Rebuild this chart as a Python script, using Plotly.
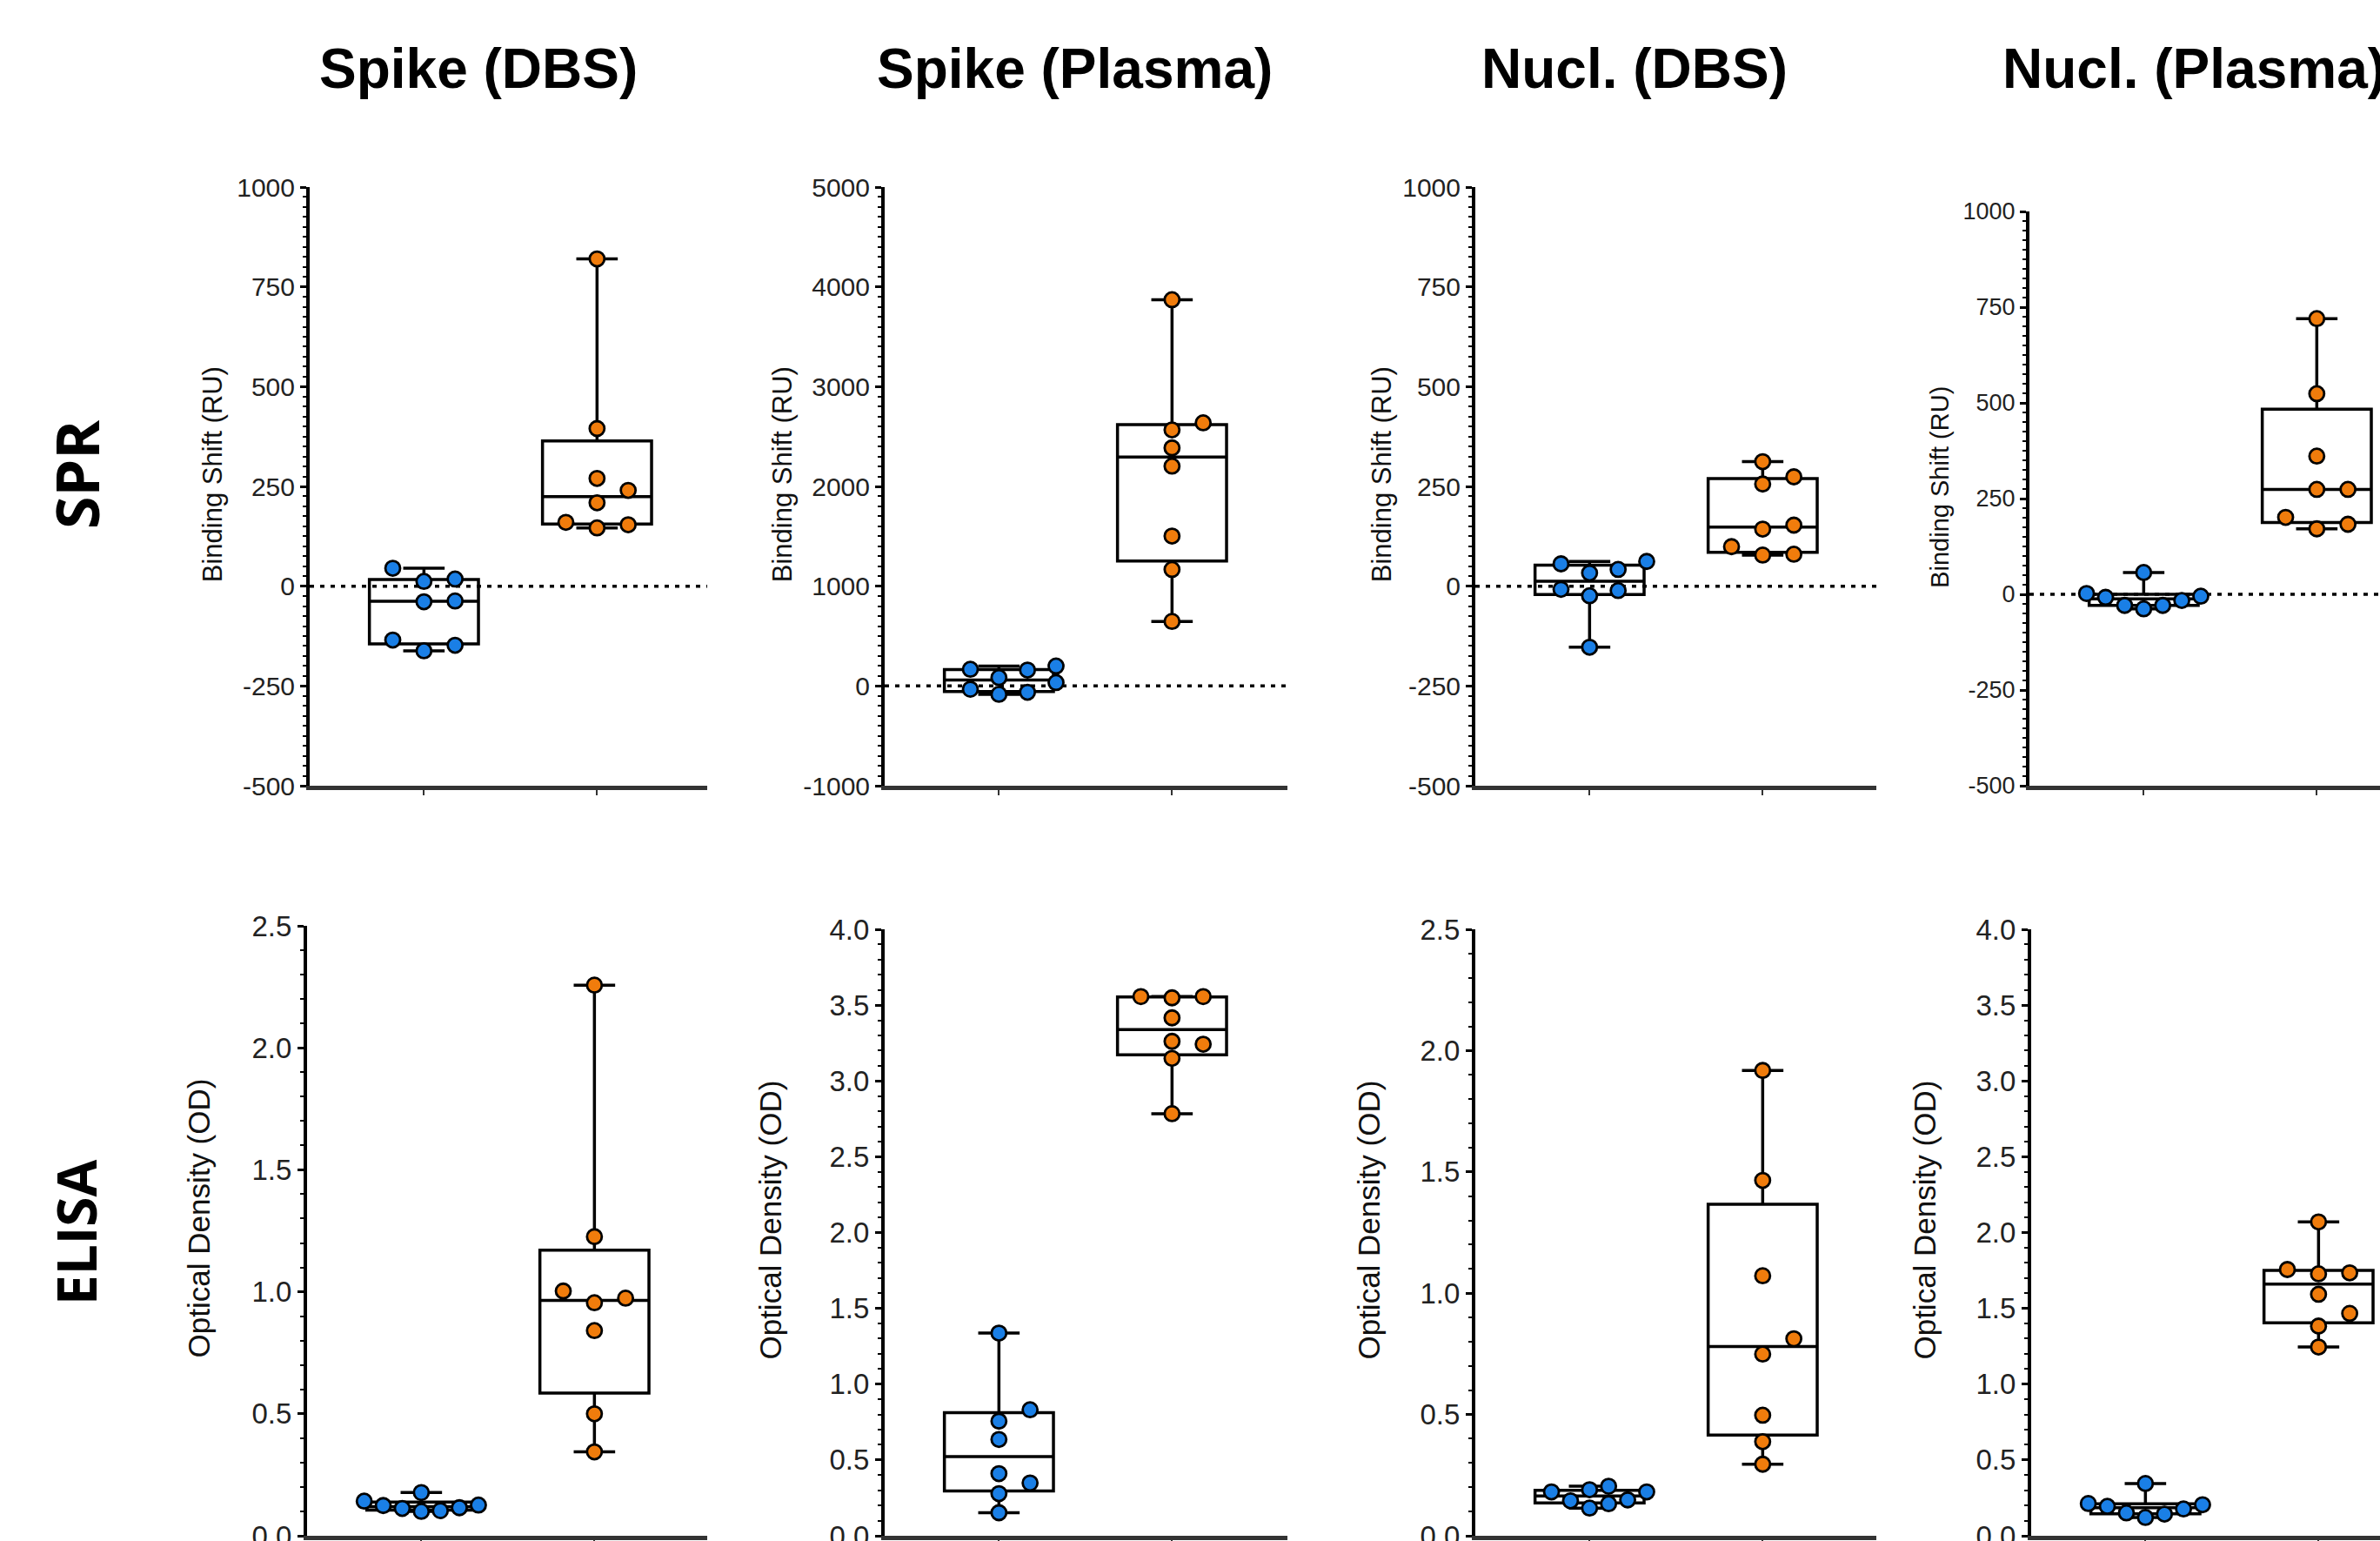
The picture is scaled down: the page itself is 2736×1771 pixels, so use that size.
import plotly.graph_objects as go
import numpy as np

# ---------------- data ----------------
column_titles = ["Spike (DBS)", "Spike (Plasma)", "Nucl. (DBS)", "Nucl. (Plasma)"]
row_labels = ["SPR", "ELISA"]
y_titles = ["Binding Shift (RU)", "Optical Density (OD)"]

spr_spike_dbs_neg = [45, 18, 12, -37, -39, -135, -148, -162]
spr_spike_dbs_pos = [820, 395, 270, 240, 209, 160, 154, 146]
spr_spike_plasma_neg = [200, 167, 159, 84, 34, -33, -63, -84]
spr_spike_plasma_pos = [3871, 2637, 2566, 2386, 2203, 1502, 1168, 647]
spr_nucl_dbs_neg = [62, 56, 42, 33, -8, -11, -24, -153]
spr_nucl_dbs_pos = [312, 274, 256, 153, 143, 99, 80, 78]
spr_nucl_plasma_neg = [57, 2, -5, -8, -16, -29, -29, -38]
spr_nucl_plasma_pos = [720, 524, 361, 274, 274, 201, 183, 171]

elisa_spike_dbs_neg = [0.177, 0.142, 0.126, 0.124, 0.115, 0.112, 0.103, 0.100]
elisa_spike_dbs_pos = [2.257, 1.226, 1.003, 0.974, 0.955, 0.841, 0.500, 0.344]
elisa_spike_plasma_neg = [1.337, 0.831, 0.756, 0.635, 0.410, 0.348, 0.278, 0.152]
elisa_spike_plasma_pos = [3.556, 3.556, 3.548, 3.416, 3.261, 3.242, 3.149, 2.784]
elisa_nucl_dbs_neg = [0.204, 0.190, 0.181, 0.181, 0.148, 0.144, 0.132, 0.114]
elisa_nucl_dbs_pos = [1.918, 1.465, 1.072, 0.812, 0.749, 0.497, 0.388, 0.295]
elisa_nucl_plasma_neg = [0.345, 0.213, 0.205, 0.194, 0.177, 0.151, 0.143, 0.121]
elisa_nucl_plasma_pos = [2.070, 1.756, 1.734, 1.728, 1.593, 1.467, 1.383, 1.245]

y_ranges = [[-500, 1000], [-1000, 5000], [-500, 1000], [-500, 1000],
            [0, 2.5], [0, 4.0], [0, 2.5], [0, 4.0]]
y_dticks = [250, 1000, 250, 250, 0.5, 0.5, 0.5, 0.5]
y_minor = [25, 100, 25, 25, 0.1, 0.1, 0.1, 0.1]

panels = [
    (spr_spike_dbs_neg, spr_spike_dbs_pos),
    (spr_spike_plasma_neg, spr_spike_plasma_pos),
    (spr_nucl_dbs_neg, spr_nucl_dbs_pos),
    (spr_nucl_plasma_neg, spr_nucl_plasma_pos),
    (elisa_spike_dbs_neg, elisa_spike_dbs_pos),
    (elisa_spike_plasma_neg, elisa_spike_plasma_pos),
    (elisa_nucl_dbs_neg, elisa_nucl_dbs_pos),
    (elisa_nucl_plasma_neg, elisa_nucl_plasma_pos),
]

# ---------------- layout geometry ----------------
W, H = 2736, 1771
BLUE = "#1a7fe6"
ORANGE = "#f07c0c"

x_dom_px = [(356, 813), (1017, 1480), (1696, 2157), (2333, 2736),
            (353, 813), (1017, 1480), (1696, 2157), (2335, 2736)]
y_dom_px = [(215, 903), (215, 903), (215, 903), (243, 903),
            (1064, 1765), (1068, 1765), (1068, 1765), (1068, 1765)]
unit_px = 199.0  # px per category unit
x_left = -0.66
title_shift = [-112, -118, -108, -103, -125, -131, -122, -122]
tick_size = [30, 30, 30, 27, 33, 33, 33, 33]
ytitle_size = [31, 31, 31, 29, 35, 35, 35, 35]

BOX_W = 0.63


def swarm(vals, px_per_unit, thr=19.0, step=0.18, half=0.33):
    order = sorted(range(len(vals)), key=lambda i: vals[i])
    placed = []
    ks = [0] * len(vals)
    for i in order:
        y = vals[i] * px_per_unit
        for k in [0, 1, -1, 2, -2, 3, -3, 4, -4, 5, -5]:
            if all(not (pk == k and abs(py - y) < thr) for pk, py in placed):
                break
        placed.append((k, y))
        ks[i] = k
    maxk = max(abs(k) for k in ks)
    if maxk:
        step = min(step, max(half / maxk, 0.1))
    return [k * step for k in ks]


def tick_labels(lo, hi, d, decimals):
    vals = list(np.arange(lo, hi + d / 2, d))
    if decimals:
        txt = [f"{v:.1f}" for v in vals]
    else:
        txt = [str(int(round(v))) for v in vals]  # plain hyphen minus
    return vals, txt


fig = go.Figure()
shapes = []
annotations = []

for p, (neg, pos) in enumerate(panels):
    n = p + 1
    xa = "x" if n == 1 else f"x{n}"
    ya = "y" if n == 1 else f"y{n}"
    x0, x1 = x_dom_px[p]
    yt, yb = y_dom_px[p]
    px_per_unit = (yb - yt) / (y_ranges[p][1] - y_ranges[p][0])

    if p < 4:
        shapes.append(dict(type="line", xref=f"{xa} domain", yref=ya,
                           x0=0, x1=1, y0=0, y1=0, layer="below",
                           line=dict(color="black", width=3.5, dash="5px,7px")))

    for gi, (vals, col) in enumerate([(neg, BLUE), (pos, ORANGE)]):
        v = np.array(vals, dtype=float)
        q1, med, q3 = np.percentile(v, [25, 50, 75], method="weibull")
        fig.add_trace(go.Box(
            x=[gi], q1=[q1], median=[med], q3=[q3],
            lowerfence=[v.min()], upperfence=[v.max()],
            width=BOX_W, whiskerwidth=0.38,
            fillcolor="rgba(0,0,0,0)", line=dict(color="black", width=3.5),
            boxpoints=False, xaxis=xa, yaxis=ya, hoverinfo="skip"))
        offs = swarm(vals, px_per_unit)
        fig.add_trace(go.Scatter(
            x=[gi + o for o in offs], y=vals, mode="markers",
            marker=dict(color=col, size=17, line=dict(color="black", width=2.8)),
            xaxis=xa, yaxis=ya, hoverinfo="skip", cliponaxis=False))

    tv, tt = tick_labels(y_ranges[p][0], y_ranges[p][1], y_dticks[p], p >= 4)
    x_right = x_left + (x1 - x0) / unit_px
    fig.update_layout({
        ("xaxis" if n == 1 else f"xaxis{n}"): dict(
            domain=[x0 / W, x1 / W], anchor=ya, range=[x_left, x_right],
            automargin=False,
            showgrid=False, zeroline=False, showline=True, linecolor="#333333",
            linewidth=5, tickmode="array", tickvals=[0, 1], ticks="outside",
            ticklen=6, tickwidth=2, tickcolor="#333", showticklabels=False),
        ("yaxis" if n == 1 else f"yaxis{n}"): dict(
            domain=[1 - yb / H, 1 - yt / H], anchor=xa, range=y_ranges[p],
            automargin=False, ticklabeloverflow="allow",
            showgrid=False, zeroline=False, showline=True, linecolor="black",
            linewidth=4, ticks="outside", ticklen=7, tickwidth=3, tickcolor="black",
            tickmode="array", tickvals=tv, ticktext=tt,
            tickfont=dict(family="Liberation Sans, Arial", size=tick_size[p], color="#222"),
            minor=dict(dtick=y_minor[p], tick0=0, ticks="outside", ticklen=4,
                       tickwidth=2, tickcolor="black", showgrid=False)),
    })

    annotations.append(dict(
        text=y_titles[0] if p < 4 else y_titles[1],
        xref=f"{xa} domain", yref=f"{ya} domain", x=0, y=0.52,
        xshift=title_shift[p], xanchor="center", yanchor="middle",
        textangle=-90, showarrow=False,
        font=dict(family="Liberation Sans, Arial", size=ytitle_size[p], color="#111")))

# column titles
title_x = [550, 1235, 1879, 2300]
for i, t in enumerate(column_titles):
    annotations.append(dict(
        text=f"<b>{t}</b>", xref="paper", yref="paper",
        x=title_x[i] / W, y=1 - 79 / H,
        xanchor="left" if i == 3 else "center", yanchor="middle", showarrow=False,
        font=dict(family="Liberation Sans, Arial", size=64, color="black")))

# row labels
row_y = [546, 1417]
row_size = [68, 62]
for i, t in enumerate(row_labels):
    annotations.append(dict(
        text=f"<b>{t}</b>", xref="paper", yref="paper",
        x=87 / W, y=1 - row_y[i] / H, xanchor="center", yanchor="middle",
        textangle=-90, showarrow=False,
        font=dict(family="Open Sans, Liberation Sans", size=row_size[i], color="black")))

fig.update_layout(
    template="none",
    width=W, height=H, margin=dict(l=0, r=0, t=0, b=0, autoexpand=False),
    paper_bgcolor="white", plot_bgcolor="white", showlegend=False,
    shapes=shapes, annotations=annotations)

fig.write_html("out.html")
